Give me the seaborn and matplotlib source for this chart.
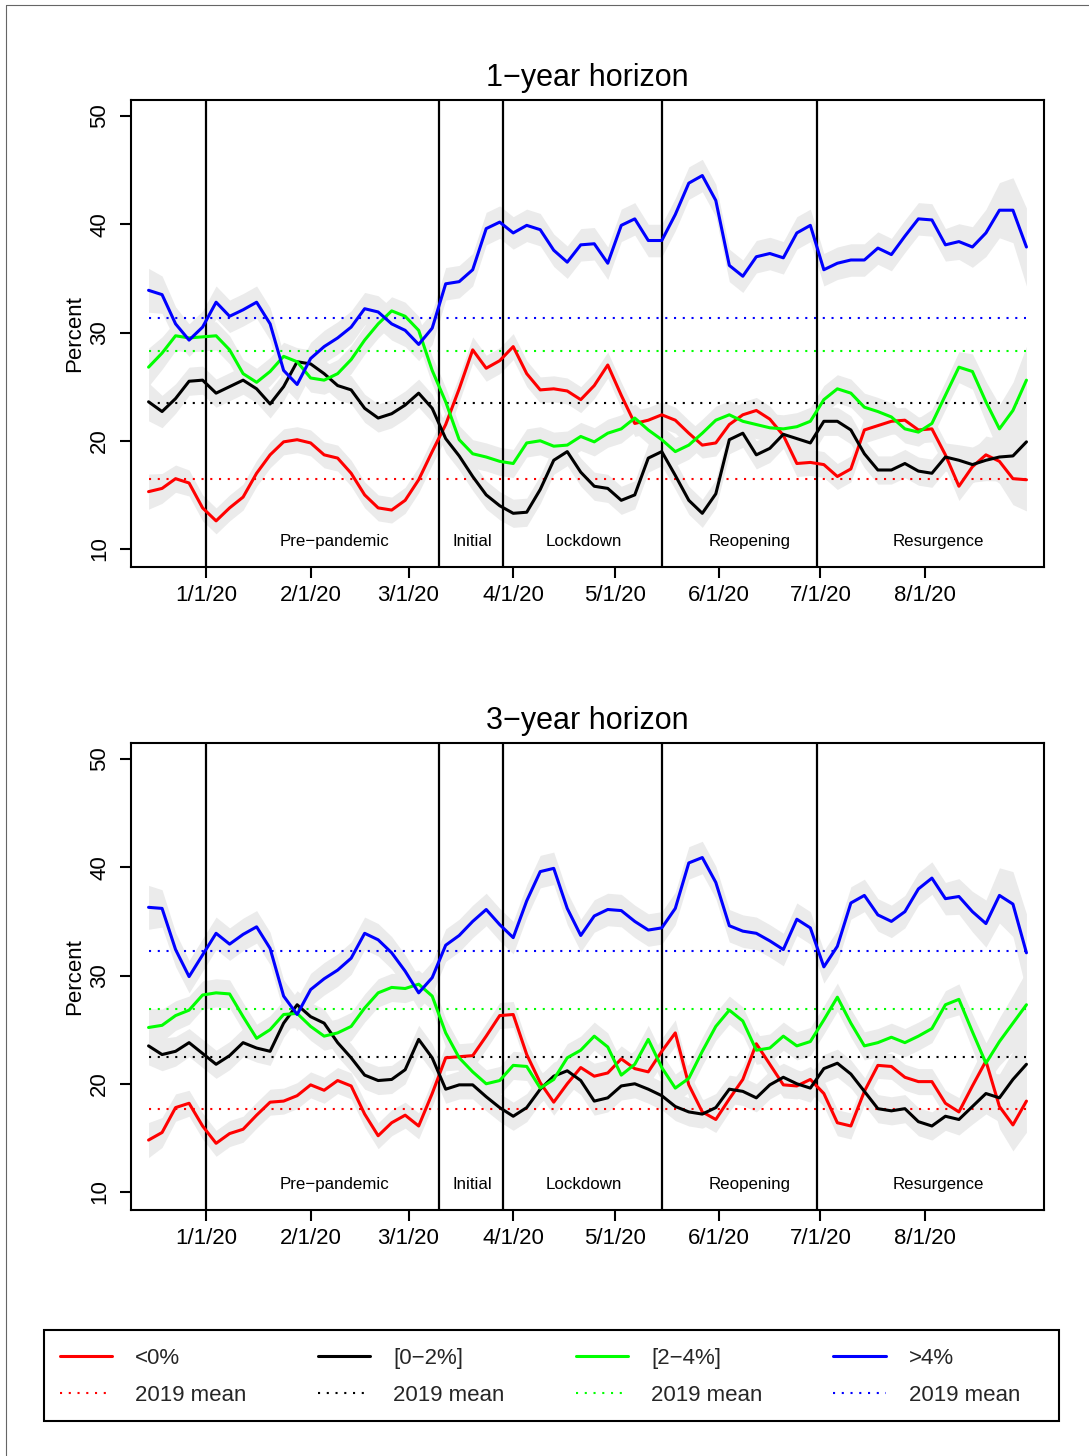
import numpy as np
import pandas as pd
import matplotlib
matplotlib.use("Agg")
import matplotlib.pyplot as plt
import seaborn as sns
from matplotlib.lines import Line2D
from matplotlib.patches import Rectangle

sns.set_theme(style="white")
plt.rcParams['font.family'] = ['Liberation Sans', 'DejaVu Sans']

# ---------------- data ----------------
dates = pd.date_range("2019-12-15", periods=66, freq="4D")

buckets = ["<0%", "[0\u22122%]", "[2\u22124%]", ">4%"]
colors = ["#FF0000", "#000000", "#00FF00", "#0000FF"]

top_red = [15.3, 15.6, 16.5, 16.1, 13.8, 12.6, 13.8, 14.8, 17.0, 18.7, 19.9, 20.1, 19.8, 18.7, 18.4, 17.0, 15.0, 13.8, 13.6, 14.5, 16.4, 19.0,
           21.5, 24.8, 28.4, 26.7, 27.4, 28.7, 26.2, 24.7, 24.8, 24.6, 23.8, 25.1, 27.0, 24.2, 21.6, 21.9, 22.4, 21.9, 20.7, 19.6, 19.8, 21.5, 22.4,
           22.8, 22.0, 20.5, 17.9, 18.0, 17.8, 16.7, 17.4, 21.0, 21.4, 21.8, 21.9, 21.0, 21.1, 18.7, 15.8, 17.6, 18.7, 18.1, 16.5, 16.4]
top_black = [23.6, 22.7, 23.9, 25.5, 25.6, 24.4, 25.0, 25.6, 24.8, 23.4, 25.0, 27.3, 27.1, 26.2, 25.1, 24.7, 23.0, 22.1, 22.5, 23.3, 24.4, 23.0,
             20.2, 18.6, 16.7, 15.0, 14.0, 13.3, 13.4, 15.5, 18.2, 19.0, 17.1, 15.8, 15.6, 14.5, 15.0, 18.4, 19.0, 16.8, 14.5, 13.3, 15.1, 20.1, 20.7,
             18.7, 19.3, 20.6, 20.2, 19.8, 21.8, 21.8, 21.0, 18.8, 17.3, 17.3, 17.9, 17.2, 17.0, 18.5, 18.2, 17.8, 18.2, 18.5, 18.6, 19.9]
top_green = [26.8, 28.1, 29.7, 29.5, 29.6, 29.7, 28.4, 26.2, 25.4, 26.4, 27.8, 27.3, 25.8, 25.6, 26.2, 27.5, 29.3, 30.8, 32.0, 31.5, 30.2, 26.5,
             23.6, 20.1, 18.8, 18.5, 18.1, 17.9, 19.8, 20.0, 19.5, 19.6, 20.4, 19.9, 20.7, 21.1, 22.1, 21.0, 20.1, 19.0, 19.6, 20.7, 21.9, 22.4, 21.8,
             21.5, 21.2, 21.1, 21.3, 21.8, 23.8, 24.8, 24.4, 23.1, 22.7, 22.2, 21.1, 20.8, 21.6, 24.2, 26.8, 26.4, 23.6, 21.1, 22.8, 25.6]
top_blue = [33.9, 33.5, 30.8, 29.3, 30.5, 32.8, 31.5, 32.1, 32.8, 30.8, 26.5, 25.2, 27.6, 28.7, 29.5, 30.5, 32.2, 31.9, 30.8, 30.2, 28.9, 30.4,
            34.5, 34.7, 35.8, 39.6, 40.2, 39.2, 39.9, 39.5, 37.6, 36.5, 38.1, 38.2, 36.4, 39.9, 40.5, 38.5, 38.5, 40.9, 43.8, 44.5, 42.2, 36.2, 35.2,
            37.0, 37.3, 36.9, 39.2, 39.9, 35.8, 36.4, 36.7, 36.7, 37.8, 37.2, 38.9, 40.5, 40.4, 38.1, 38.4, 37.9, 39.2, 41.3, 41.3, 37.9]

bot_red = [14.8, 15.5, 17.8, 18.2, 16.1, 14.5, 15.4, 15.8, 17.1, 18.3, 18.4, 18.9, 19.9, 19.4, 20.3, 19.8, 17.2, 15.2, 16.4, 17.1, 16.1, 19.1,
           22.4, 22.5, 22.6, 24.4, 26.3, 26.4, 22.7, 20.1, 18.3, 20.0, 21.5, 20.7, 21.0, 22.3, 21.4, 21.1, 23.0, 24.7, 19.9, 17.4, 16.7, 18.6, 20.4,
           23.7, 21.8, 19.9, 19.8, 20.4, 19.1, 16.4, 16.1, 19.3, 21.7, 21.6, 20.6, 20.2, 20.2, 18.2, 17.4, 19.8, 22.1, 17.9, 16.2, 18.4]
bot_black = [23.5, 22.7, 23.0, 23.8, 22.8, 21.8, 22.6, 23.8, 23.3, 23.0, 25.6, 27.3, 26.2, 25.6, 23.8, 22.4, 20.8, 20.3, 20.4, 21.3, 24.1, 22.4,
             19.5, 19.9, 19.9, 18.8, 17.8, 17.0, 17.8, 19.5, 20.7, 21.2, 20.3, 18.4, 18.7, 19.8, 20.0, 19.5, 18.9, 17.9, 17.4, 17.2, 17.8, 19.5, 19.3,
             18.7, 19.9, 20.6, 20.0, 19.6, 21.4, 21.9, 20.9, 19.3, 17.7, 17.5, 17.7, 16.5, 16.1, 17.0, 16.7, 17.9, 19.1, 18.7, 20.4, 21.8]
bot_green = [25.2, 25.4, 26.3, 26.8, 28.2, 28.4, 28.3, 26.2, 24.2, 25.0, 26.4, 26.5, 25.3, 24.4, 24.7, 25.3, 27.0, 28.4, 28.9, 28.8, 29.2, 28.1,
             24.7, 22.4, 21.1, 20.0, 20.3, 21.7, 21.6, 19.6, 20.4, 22.4, 23.1, 24.4, 23.4, 20.8, 21.8, 24.1, 21.5, 19.6, 20.5, 23.0, 25.3, 26.8, 25.8,
             23.1, 23.3, 24.4, 23.5, 23.9, 25.9, 28.0, 25.6, 23.5, 23.8, 24.3, 23.8, 24.4, 25.1, 27.3, 27.8, 24.8, 21.9, 23.9, 25.6, 27.3]
bot_blue = [36.3, 36.2, 32.4, 29.9, 31.9, 33.9, 32.9, 33.8, 34.5, 32.5, 28.1, 26.4, 28.7, 29.7, 30.5, 31.6, 33.9, 33.3, 32.1, 30.4, 28.4, 29.8,
            32.8, 33.7, 35.0, 36.1, 34.7, 33.5, 36.9, 39.6, 39.9, 36.2, 33.7, 35.5, 36.1, 36.0, 35.0, 34.2, 34.4, 36.2, 40.4, 40.9, 38.6, 34.6, 34.1,
            33.9, 33.2, 32.4, 35.2, 34.4, 30.8, 32.7, 36.7, 37.4, 35.6, 35.0, 35.9, 38.0, 39.0, 37.1, 37.3, 35.9, 34.8, 37.4, 36.6, 32.1]

top_means = [16.44, 23.52, 28.29, 31.30]
bot_means = [17.67, 22.47, 26.90, 32.23]

# confidence band half-widths (percentage points) and their scaling over time
band_halfwidth = [1.2, 1.3, 1.3, 1.5]
band_scale = [1.35, 1.15, 1.05] + [1.0] * 57 + [1.1, 1.25, 1.45, 1.7, 2.0, 2.4]

phase_breaks = ["2020-01-01", "2020-03-10", "2020-03-29", "2020-05-15", "2020-06-30"]
phase_names = ["Pre\u2212pandemic", "Initial", "Lockdown", "Reopening", "Resurgence"]
phase_label_dates = ["2020-02-08", "2020-03-20", "2020-04-22", "2020-06-10", "2020-08-05"]

tick_dates = pd.date_range("2020-01-01", periods=8, freq="MS")
tick_labels = ["1/1/20", "2/1/20", "3/1/20", "4/1/20", "5/1/20", "6/1/20", "7/1/20", "8/1/20"]

panels = [
    ("1\u2212year horizon", [top_red, top_black, top_green, top_blue], top_means),
    ("3\u2212year horizon", [bot_red, bot_black, bot_green, bot_blue], bot_means),
]

# ---------------- figure ----------------
W, H = 1089, 1456
fig = plt.figure(figsize=(W / 100, H / 100), dpi=100)
fig.patch.set_facecolor("white")

ax_rects = [
    [131 / W, 1 - 567 / H, 913 / W, 467 / H],
    [131 / W, 1 - 1210 / H, 913 / W, 467 / H],
]

x0 = pd.Timestamp("2020-01-01") + pd.Timedelta(days=-22.2)
x1 = pd.Timestamp("2020-01-01") + pd.Timedelta(days=248.2)

for rect, (title, series, means) in zip(ax_rects, panels):
    ax = fig.add_axes(rect)
    ax.set_facecolor("white")
    scale = np.array(band_scale)
    for vals, hw in zip(series, band_halfwidth):
        v = np.array(vals)
        ax.fill_between(dates, v - hw * scale, v + hw * scale, color="#EBEBEB", lw=0, zorder=1)
    for m, c in zip(means, colors):
        ax.plot([dates[0], dates[-1]], [m, m], color=c, lw=1.5, ls=(0, (1, 3.2)), zorder=2)
    for d in phase_breaks:
        ax.axvline(pd.Timestamp(d), color="black", lw=1.6, zorder=2.5)

    df = pd.DataFrame({
        "date": np.tile(dates, len(buckets)),
        "value": np.concatenate([np.array(s) for s in series]),
        "bucket": np.repeat(buckets, len(dates)),
    })
    sns.lineplot(data=df, x="date", y="value", hue="bucket", hue_order=buckets,
                 palette=colors, ax=ax, legend=False, linewidth=2.2, errorbar=None, zorder=3)
    for ln in ax.get_lines()[-len(buckets):]:
        ln.set_solid_joinstyle("round")
        ln.set_solid_capstyle("round")

    for name, d in zip(phase_names, phase_label_dates):
        ax.text(pd.Timestamp(d), 10.7, name, ha="center", va="center", fontsize=12.2, color="black")

    ax.set_xlim(x0, x1)
    ax.set_ylim(8.34, 51.48)
    ax.set_xticks(tick_dates)
    ax.set_xticklabels(tick_labels)
    ax.set_yticks([10, 20, 30, 40, 50])
    ax.set_yticklabels(["10", "20", "30", "40", "50"])
    for lab in ax.get_yticklabels():
        lab.set_rotation(90)
        lab.set_va("center")
    ax.tick_params(axis="both", direction="out", length=8, width=1.5, color="black",
                   labelsize=16, labelcolor="black", bottom=True, left=True)
    ax.tick_params(axis="x", pad=5)
    ax.tick_params(axis="y", pad=7)
    for sp in ax.spines.values():
        sp.set_visible(True)
        sp.set_color("black")
        sp.set_linewidth(1.5)
    ax.set_xlabel("")
    ax.set_ylabel("Percent", fontsize=16, color="black", labelpad=3)
    ax.set_title(title, fontsize=22, pad=10, color="black")

# ---------------- legend ----------------
handles, labels = [], []
for b, c in zip(buckets, colors):
    handles.append(Line2D([], [], color=c, lw=2.2))
    labels.append(b)
    handles.append(Line2D([], [], color=c, lw=1.5, ls=(0, (1, 3.2))))
    labels.append("2019 mean")

fig.legend(handles, labels, ncol=4, loc="upper left",
           bbox_to_anchor=(60 / W, 1 - 1348 / H), frameon=False, fontsize=16,
           handlelength=2.35, handletextpad=1.04, columnspacing=3.2,
           labelspacing=0.73, borderpad=0, borderaxespad=0)
fig.add_artist(Rectangle((44 / W, 1 - 1421 / H), 1015 / W, 91 / H, transform=fig.transFigure,
                         fill=False, lw=1.5, ec="black"))

# outer frame
fig.add_artist(Line2D([6 / W, 6 / W], [0, 1 - 5 / H], transform=fig.transFigure, color="#666666", lw=0.8))
fig.add_artist(Line2D([6 / W, 1], [1 - 5 / H, 1 - 5 / H], transform=fig.transFigure, color="#666666", lw=0.8))

fig.savefig("out.png", dpi=100, facecolor="white")
